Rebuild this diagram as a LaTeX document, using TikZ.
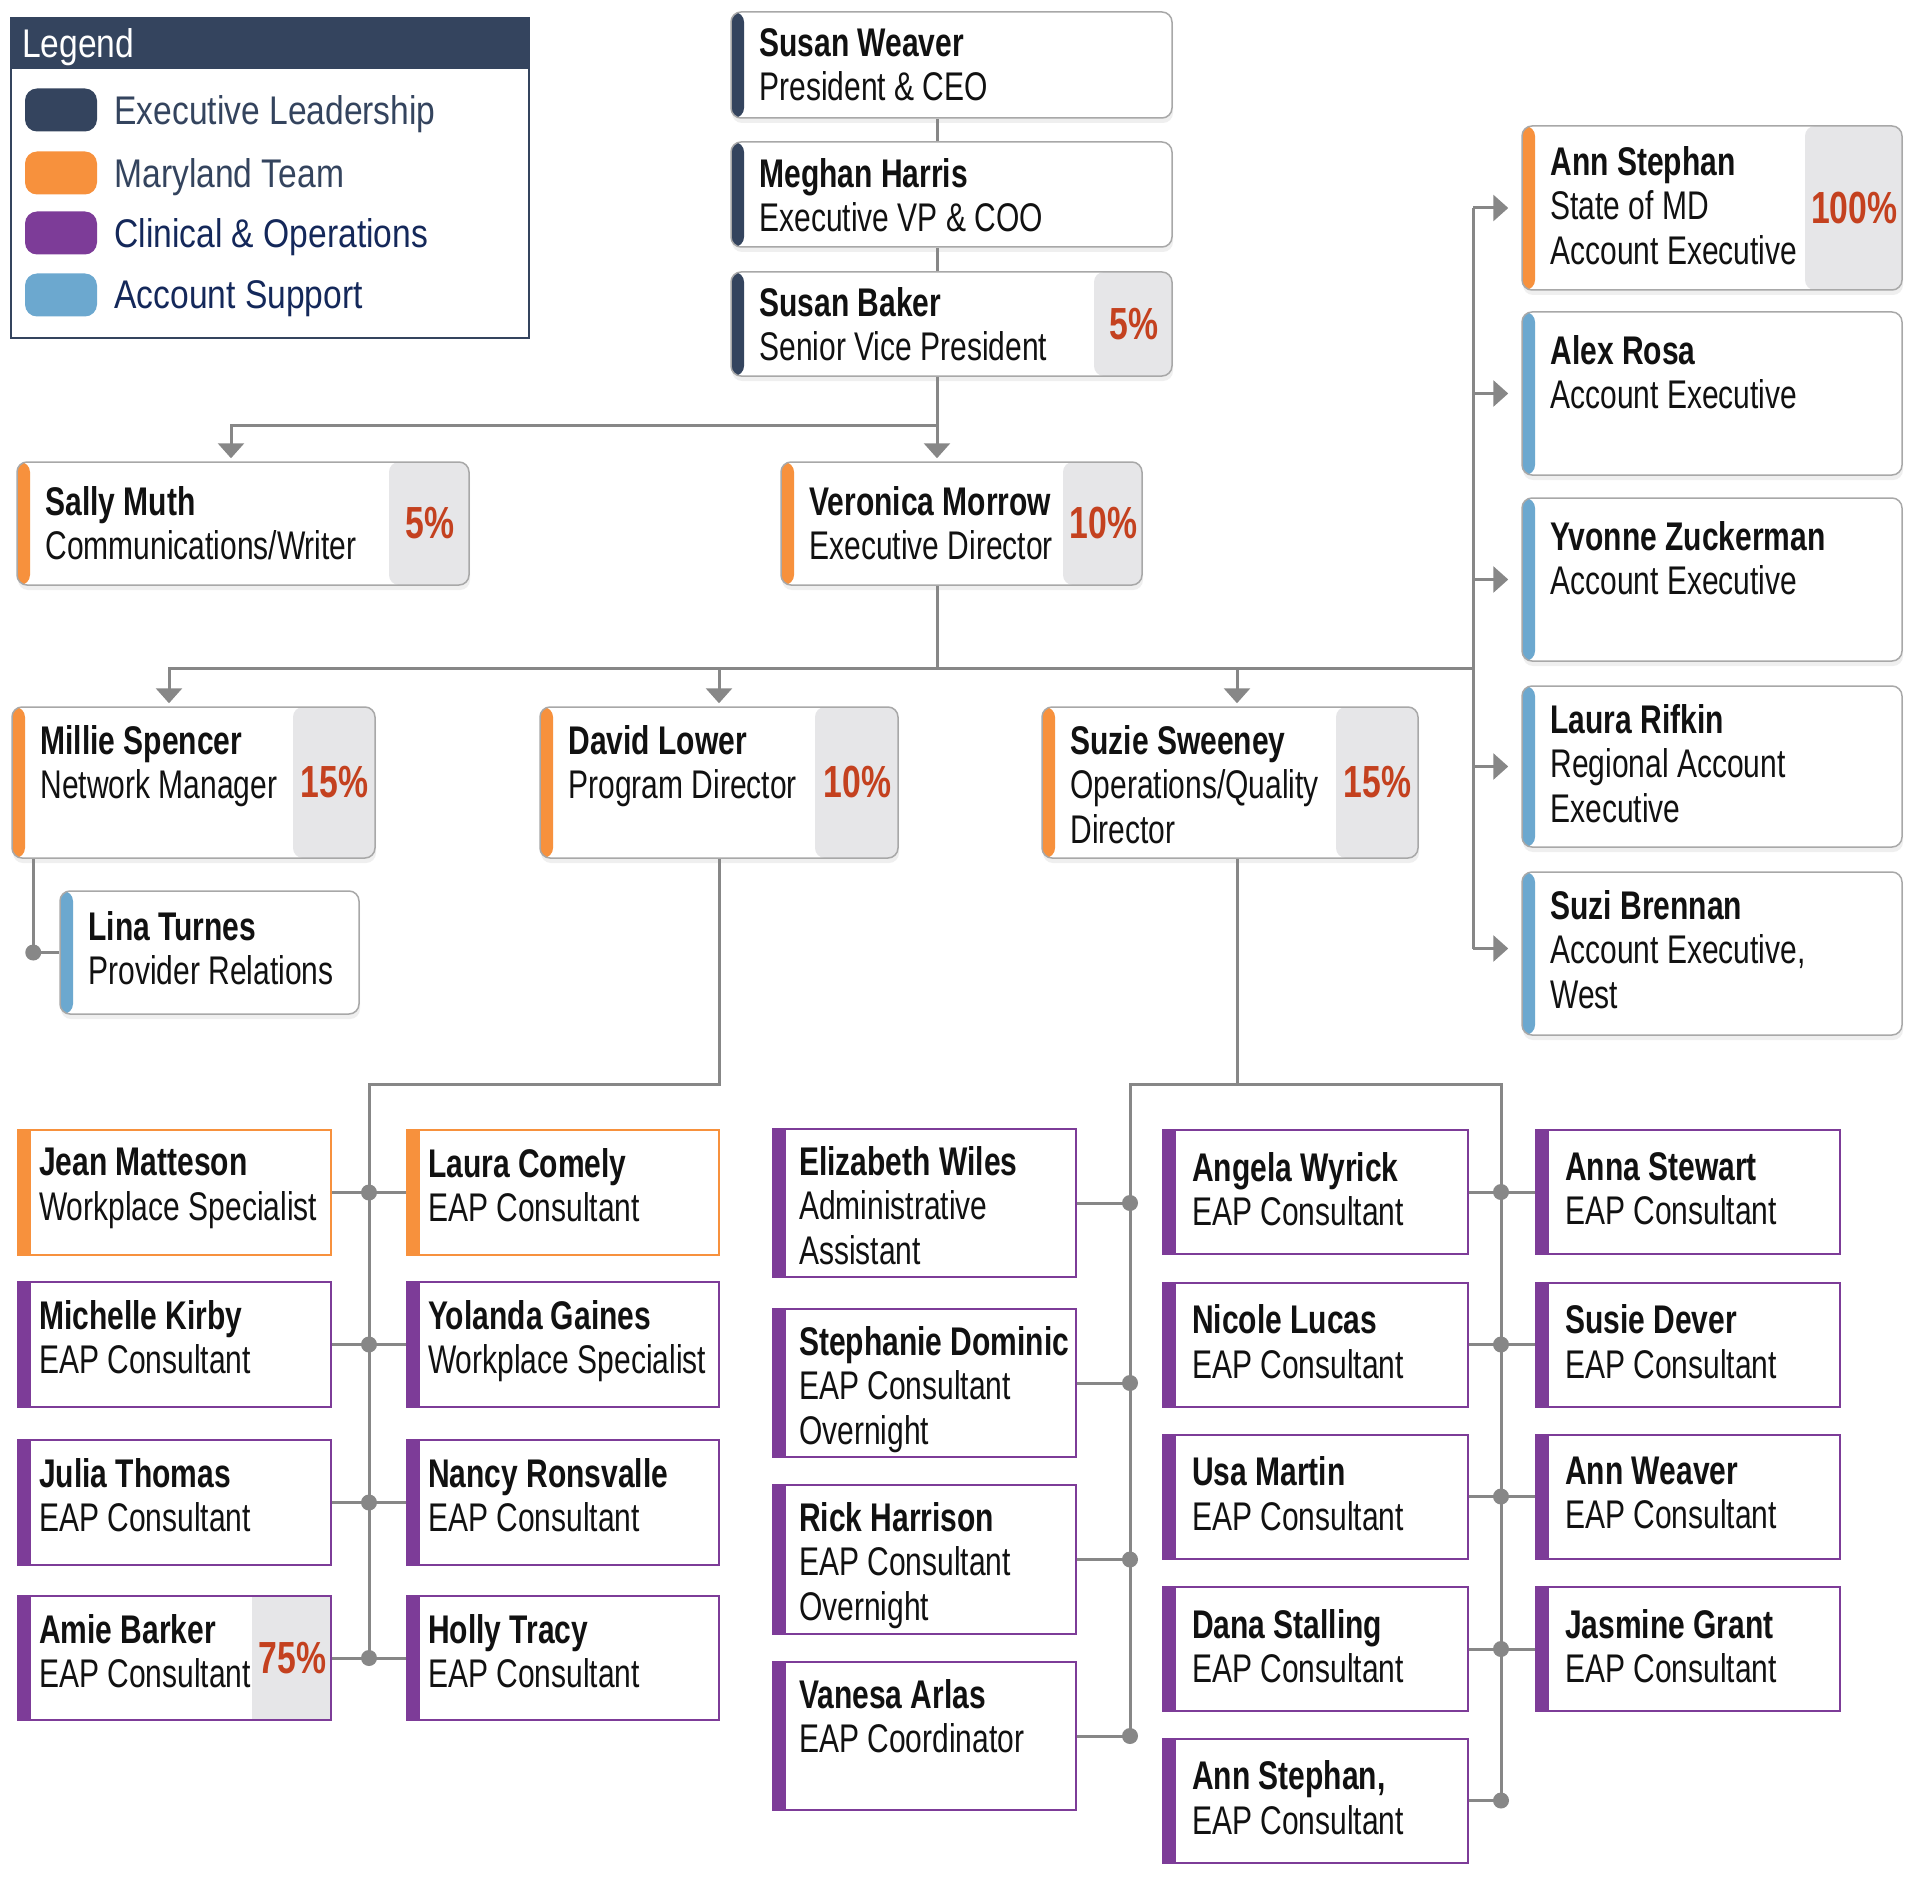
\documentclass[tikz,border=0pt]{standalone}
\usepackage{fontspec}
\setmainfont{Liberation Sans}[FakeStretch=0.75]
\newfontfamily\legendfont{Liberation Sans}[FakeStretch=0.84]
\usetikzlibrary{positioning,shadows,arrows.meta}

\definecolor{execblue}{HTML}{34445E}
\definecolor{mdorange}{HTML}{F7913D}
\definecolor{clinpurple}{HTML}{7D3C98}
\definecolor{acctblue}{HTML}{6CA8CF}
\definecolor{legendnavy}{HTML}{14285A}
\definecolor{pctred}{HTML}{C4411F}
\definecolor{pctgrey}{HTML}{E6E6E8}
\definecolor{linegrey}{HTML}{878787}
\definecolor{edgegrey}{HTML}{A8A8A8}
\definecolor{ink}{HTML}{111111}

\tikzset{
  bar/.store in=\barcolor, bar=execblue,
  cell/.store in=\cellwidth, cell=0pt,
  barred/.style={path picture={
      \fill[\barcolor] (path picture bounding box.north west) rectangle ([xshift=13pt]path picture bounding box.south west);
      \fill[pctgrey] ([xshift=-\cellwidth]path picture bounding box.north east) rectangle (path picture bounding box.south east);}},
  card/.style={barred, rectangle, rounded corners=10pt, draw=edgegrey, line width=1.5pt, fill=white, inner sep=0pt,
    drop shadow={opacity=.13, shadow xshift=1pt, shadow yshift=-5pt}},
  tile/.style={barred, rectangle, draw=#1, bar=#1, line width=2pt, fill=white, inner sep=0pt},
  whotext/.style={anchor=north west, inner xsep=29pt, inner ysep=19pt, align=left, text=ink, font=\fontsize{40}{44.5}\selectfont},
  who/.style={label={[whotext]north west:{#1}}},
  whoat/.style 2 args={label={[whotext, inner ysep=#1]north west:{#2}}},
  staff/.style={label={[whotext, inner xsep=27pt, inner ysep=18pt]north west:{#1}}},
  staffl/.style={label={[whotext, inner xsep=22pt]north west:{#1}}},
  staffr/.style={label={[whotext, inner xsep=30pt, inner ysep=23pt]north west:{#1}}},
  pcttext/.style={anchor=center, inner sep=0pt, text=pctred, font=\fontsize{45}{45}\selectfont\bfseries},
  pct/.style 2 args={cell=#1, label={[pcttext, xshift=-#1/2]east:{#2}}},
  conn/.style={draw=linegrey, line width=3pt},
  arr/.style={conn, -{Triangle[width=26pt,length=15pt]}, shorten >=3pt},
  dot/.style={circle, fill=linegrey, inner sep=0pt, minimum size=16pt},
  swatch/.style={rounded corners=12pt, minimum width=72pt, minimum height=43pt, inner sep=0pt},
  legendtext/.style={inner sep=0pt, yshift=-4pt, font=\legendfont\fontsize{40}{44}\selectfont}
}

\begin{document}
\begin{tikzpicture}[x=1pt, y=-1pt]
  \useasboundingbox (0,0) rectangle (1920,1886);

  % legend
  \node[draw=execblue, line width=2pt, minimum width=518pt, minimum height=320pt, inner sep=0pt, anchor=north west] (legend) at (10,17) {};
  \node[fill=execblue, minimum width=518pt, minimum height=52pt, inner sep=0pt, anchor=north west] (legendhead) at (legend.north west) {};
  \node[legendtext, text=white, anchor=west] (legendtitle) at ([xshift=12pt]legendhead.west) {Legend};
  \node[swatch, fill=execblue] (swexec) at (61,110) {};
  \node[legendtext, text=execblue, right=17pt of swexec] (lgexec) {Executive Leadership};
  \node[swatch, fill=mdorange] (swmd) at (61,173) {};
  \node[legendtext, text=execblue, right=17pt of swmd] (lgmd) {Maryland Team};
  \node[swatch, fill=clinpurple] (swclin) at (61,233) {};
  \node[legendtext, text=legendnavy, right=17pt of swclin] (lgclin) {Clinical \& Operations};
  \node[swatch, fill=acctblue] (swacct) at (61,295) {};
  \node[legendtext, text=legendnavy, right=17pt of swacct] (lgacct) {Account Support};

  % leadership
  \node[card, minimum width=441pt, minimum height=106pt, whoat={17pt}{\textbf{Susan Weaver}\\President \& CEO}] (weaver) at (951.5,65) {};
  \node[card, minimum width=441pt, minimum height=105pt, whoat={17pt}{\textbf{Meghan Harris}\\Executive VP \& COO}] (harris) at (951.5,194.5) {};
  \node[card, minimum width=441pt, minimum height=104pt, pct={78pt}{5\%}, whoat={16pt}{\textbf{Susan Baker}\\Senior Vice President}] (baker) at (951.5,324) {};

  % maryland team
  \node[card, bar=mdorange, minimum width=452pt, minimum height=123pt, pct={80pt}{5\%}, whoat={25pt}{\textbf{Sally Muth}\\Communications/Writer}] (muth) at (243,523.5) {};
  \node[card, bar=mdorange, minimum width=361pt, minimum height=123pt, pct={79pt}{10\%}, whoat={25pt}{\textbf{Veronica Morrow}\\Executive Director}] (morrow) at (961.5,523.5) {};
  \node[card, bar=mdorange, minimum width=363pt, minimum height=151pt, pct={82pt}{15\%}, who={\textbf{Millie Spencer}\\Network Manager}] (spencer) at (193.5,782.5) {};
  \node[card, bar=mdorange, minimum width=358pt, minimum height=151pt, pct={83pt}{10\%}, who={\textbf{David Lower}\\Program Director}] (lower) at (719,782.5) {};
  \node[card, bar=mdorange, minimum width=376pt, minimum height=151pt, pct={82pt}{15\%}, who={\textbf{Suzie Sweeney}\\Operations/Quality\\Director}] (sweeney) at (1230,782.5) {};
  \node[card, bar=acctblue, minimum width=299pt, minimum height=123pt, whoat={21pt}{\textbf{Lina Turnes}\\Provider Relations}] (turnes) at (209.5,952.5) {};

  % account executives
  \node[card, bar=mdorange, minimum width=380pt, minimum height=164pt, pct={97pt}{100\%}, whoat={21pt}{\textbf{Ann Stephan}\\State of MD\\Account Executive}] (stephanmd) at (1712,208) {};
  \node[card, bar=acctblue, minimum width=380pt, minimum height=163pt, whoat={24pt}{\textbf{Alex Rosa}\\Account Executive}] (rosa) at (1712,393.5) {};
  \node[card, bar=acctblue, minimum width=380pt, minimum height=163pt, whoat={24pt}{\textbf{Yvonne Zuckerman}\\Account Executive}] (zuckerman) at (1712,579.5) {};
  \node[card, bar=acctblue, minimum width=380pt, minimum height=161pt, who={\textbf{Laura Rifkin}\\Regional Account\\Executive}] (rifkin) at (1712,766.5) {};
  \node[card, bar=acctblue, minimum width=380pt, minimum height=163pt, who={\textbf{Suzi Brennan}\\Account Executive,\\West}] (brennan) at (1712,953.5) {};

  % program staff
  \node[tile=mdorange, minimum width=313pt, minimum height=125pt, staffl={\textbf{Jean Matteson}\\Workplace Specialist}] (matteson) at (174.5,1192.5) {};
  \node[tile=mdorange, minimum width=312pt, minimum height=125pt, staffl={\textbf{Laura Comely}\\EAP Consultant}] (comely) at (563,1192.5) {};
  \node[tile=clinpurple, minimum width=313pt, minimum height=125pt, staffl={\textbf{Michelle Kirby}\\EAP Consultant}] (kirby) at (174.5,1344.5) {};
  \node[tile=clinpurple, minimum width=312pt, minimum height=125pt, staffl={\textbf{Yolanda Gaines}\\Workplace Specialist}] (gaines) at (563,1344.5) {};
  \node[tile=clinpurple, minimum width=313pt, minimum height=125pt, staffl={\textbf{Julia Thomas}\\EAP Consultant}] (thomas) at (174.5,1502.5) {};
  \node[tile=clinpurple, minimum width=312pt, minimum height=125pt, staffl={\textbf{Nancy Ronsvalle}\\EAP Consultant}] (ronsvalle) at (563,1502.5) {};
  \node[tile=clinpurple, minimum width=313pt, minimum height=124pt, pct={79pt}{75\%}, staffl={\textbf{Amie Barker}\\EAP Consultant}] (barker) at (174.5,1658) {};
  \node[tile=clinpurple, minimum width=312pt, minimum height=124pt, staffl={\textbf{Holly Tracy}\\EAP Consultant}] (tracy) at (563,1658) {};

  % operations staff
  \node[tile=clinpurple, minimum width=303pt, minimum height=148pt, staff={\textbf{Elizabeth Wiles}\\Administrative\\Assistant}] (wiles) at (924.5,1203) {};
  \node[tile=clinpurple, minimum width=303pt, minimum height=148pt, staff={\textbf{Stephanie Dominic}\\EAP Consultant\\Overnight}] (dominic) at (924.5,1383) {};
  \node[tile=clinpurple, minimum width=303pt, minimum height=149pt, staff={\textbf{Rick Harrison}\\EAP Consultant\\Overnight}] (harrison) at (924.5,1559.5) {};
  \node[tile=clinpurple, minimum width=303pt, minimum height=148pt, staff={\textbf{Vanesa Arlas}\\EAP Coordinator}] (arlas) at (924.5,1736) {};
  \node[tile=clinpurple, minimum width=305pt, minimum height=124pt, staffr={\textbf{Angela Wyrick}\\EAP Consultant}] (wyrick) at (1315.5,1192) {};
  \node[tile=clinpurple, minimum width=305pt, minimum height=124pt, staffr={\textbf{Nicole Lucas}\\EAP Consultant}] (lucas) at (1315.5,1344.5) {};
  \node[tile=clinpurple, minimum width=305pt, minimum height=124pt, staffr={\textbf{Usa Martin}\\EAP Consultant}] (martin) at (1315.5,1496.5) {};
  \node[tile=clinpurple, minimum width=305pt, minimum height=124pt, staffr={\textbf{Dana Stalling}\\EAP Consultant}] (stalling) at (1315.5,1649) {};
  \node[tile=clinpurple, minimum width=305pt, minimum height=124pt, staffr={\textbf{Ann Stephan,}\\EAP Consultant}] (stephaneap) at (1315.5,1800.5) {};
  \node[tile=clinpurple, minimum width=304pt, minimum height=124pt, staffr={\textbf{Anna Stewart}\\EAP Consultant}] (stewart) at (1688,1192) {};
  \node[tile=clinpurple, minimum width=304pt, minimum height=124pt, staffr={\textbf{Susie Dever}\\EAP Consultant}] (dever) at (1688,1344.5) {};
  \node[tile=clinpurple, minimum width=304pt, minimum height=124pt, staffr={\textbf{Ann Weaver}\\EAP Consultant}] (aweaver) at (1688,1496.5) {};
  \node[tile=clinpurple, minimum width=304pt, minimum height=124pt, staffr={\textbf{Jasmine Grant}\\EAP Consultant}] (grant) at (1688,1649) {};

  % connectors
  \coordinate (trunk) at (937,0);
  \coordinate (split) at (937,425);
  \coordinate (hbus) at (937,668);
  \coordinate (rbus) at (1473,668);
  \coordinate (lbus) at (369,1084);
  \coordinate (cbus) at (1130,1084);
  \coordinate (dbus) at (1501,1084);
  \coordinate (muthtop) at ([xshift=-12pt]muth.north);
  \coordinate (spencertop) at ([xshift=-24.5pt]spencer.north);
  \coordinate (sweeneytop) at ([xshift=7pt]sweeney.north);
  \coordinate (sweeneybot) at ([xshift=7pt]sweeney.south);
  \coordinate (spencerbot) at ([xshift=22pt]spencer.south west);
  \coordinate (brennanin) at ([yshift=5pt]brennan.west);

  \draw[conn] (weaver.south -| trunk) -- (harris.north -| trunk);
  \draw[conn] (harris.south -| trunk) -- (baker.north -| trunk);
  \draw[conn] (baker.south -| trunk) -- (split);
  \draw[arr] (split) -| (muthtop);
  \draw[arr] (split) -- (morrow.north -| trunk);
  \draw[conn] (morrow.south -| trunk) -- (hbus);
  \draw[arr] (hbus) -| (spencertop);
  \draw[arr] (hbus) -| (lower.north);
  \draw[arr] (hbus) -| (sweeneytop);
  \draw[conn] (hbus) -- (rbus);
  \draw[conn] (stephanmd.west -| rbus) -- (brennanin -| rbus);
  \draw[arr, shorten >=13pt] (stephanmd.west -| rbus) -- (stephanmd.west);
  \draw[arr, shorten >=13pt] (rosa.west -| rbus) -- (rosa.west);
  \draw[arr, shorten >=13pt] (zuckerman.west -| rbus) -- (zuckerman.west);
  \draw[arr, shorten >=13pt] (rifkin.west -| rbus) -- (rifkin.west);
  \draw[arr, shorten >=13pt] (brennanin -| rbus) -- (brennanin);

  \draw[conn] (spencerbot) |- (turnes.west);
  \node[dot] (turnesdot) at (spencerbot |- turnes.west) {};

  \draw[conn] (lower.south) |- (lbus) -- (lbus |- barker.east);
  \draw[conn] (matteson.east) -- (comely.west);
  \draw[conn] (kirby.east) -- (gaines.west);
  \draw[conn] (thomas.east) -- (ronsvalle.west);
  \draw[conn] (barker.east) -- (tracy.west);
  \node[dot] (mattesondot) at (matteson.east -| lbus) {};
  \node[dot] (kirbydot) at (kirby.east -| lbus) {};
  \node[dot] (thomasdot) at (thomas.east -| lbus) {};
  \node[dot] (barkerdot) at (barker.east -| lbus) {};

  \draw[conn] (sweeneybot) -- (sweeneybot |- cbus);
  \draw[conn] (arlas.east -| cbus) -- (cbus) -- (dbus) -- (stephaneap.east -| dbus);
  \draw[conn] (wiles.east) -- (wiles.east -| cbus);
  \draw[conn] (dominic.east) -- (dominic.east -| cbus);
  \draw[conn] (harrison.east) -- (harrison.east -| cbus);
  \draw[conn] (arlas.east) -- (arlas.east -| cbus);
  \node[dot] (wilesdot) at (wiles.east -| cbus) {};
  \node[dot] (dominicdot) at (dominic.east -| cbus) {};
  \node[dot] (harrisondot) at (harrison.east -| cbus) {};
  \node[dot] (arlasdot) at (arlas.east -| cbus) {};

  \draw[conn] (wyrick.east) -- (stewart.west);
  \draw[conn] (lucas.east) -- (dever.west);
  \draw[conn] (martin.east) -- (aweaver.west);
  \draw[conn] (stalling.east) -- (grant.west);
  \draw[conn] (stephaneap.east) -- (stephaneap.east -| dbus);
  \node[dot] (wyrickdot) at (wyrick.east -| dbus) {};
  \node[dot] (lucasdot) at (lucas.east -| dbus) {};
  \node[dot] (martindot) at (martin.east -| dbus) {};
  \node[dot] (stallingdot) at (stalling.east -| dbus) {};
  \node[dot] (stephaneapdot) at (stephaneap.east -| dbus) {};
\end{tikzpicture}
\end{document}
